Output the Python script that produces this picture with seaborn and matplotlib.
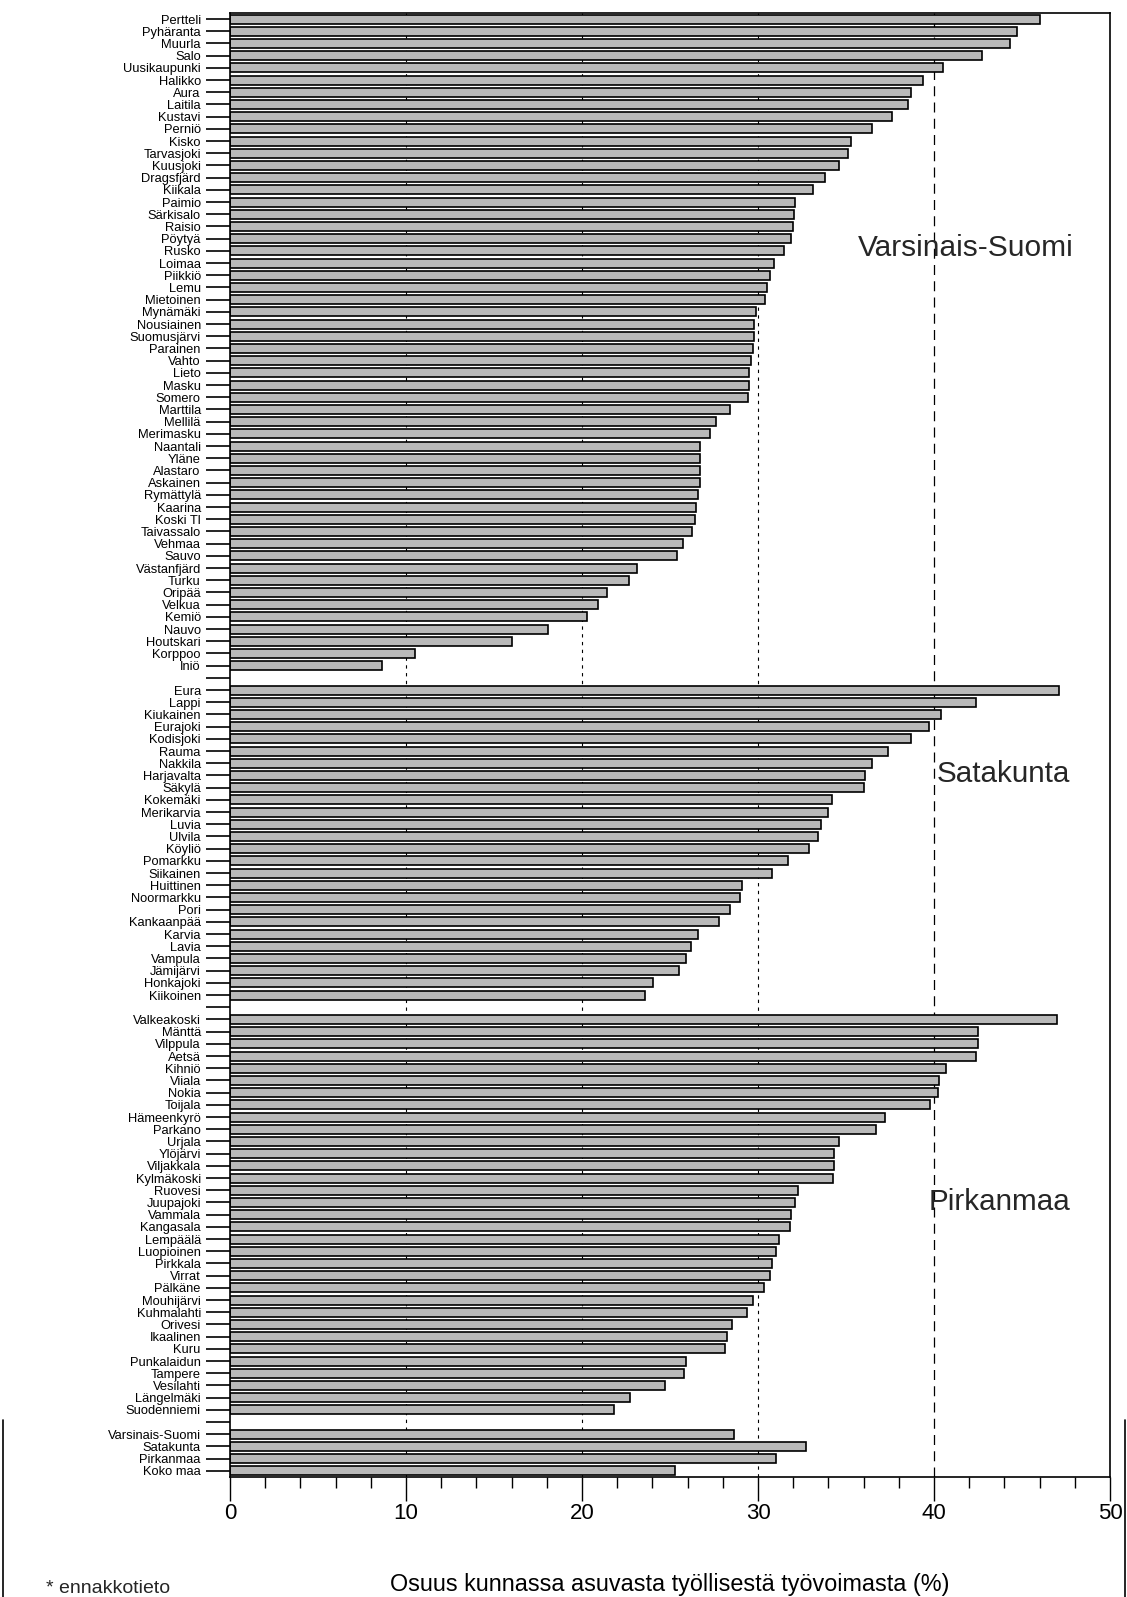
import numpy as np
import pandas as pd
import matplotlib
matplotlib.use("Agg")
import matplotlib.pyplot as plt
from matplotlib.ticker import MultipleLocator
from matplotlib.lines import Line2D
import seaborn as sns

# ---------------- data ----------------
vs_names = ["Pertteli", "Pyhäranta", "Muurla", "Salo", "Uusikaupunki", "Halikko", "Aura",
            "Laitila", "Kustavi", "Perniö", "Kisko", "Tarvasjoki", "Kuusjoki", "Dragsfjärd",
            "Kiikala", "Paimio", "Särkisalo", "Raisio", "Pöytyä", "Rusko", "Loimaa", "Piikkiö",
            "Lemu", "Mietoinen", "Mynämäki", "Nousiainen", "Suomusjärvi", "Parainen", "Vahto",
            "Lieto", "Masku", "Somero", "Marttila", "Mellilä", "Merimasku", "Naantali", "Yläne",
            "Alastaro", "Askainen", "Rymättylä", "Kaarina", "Koski Tl", "Taivassalo", "Vehmaa",
            "Sauvo", "Västanfjärd", "Turku", "Oripää", "Velkua", "Kemiö", "Nauvo", "Houtskari",
            "Korppoo", "Iniö"]
vs_values = [46.0, 44.7, 44.3, 42.7, 40.5, 39.4, 38.7, 38.5, 37.6, 36.5, 35.3, 35.1, 34.6, 33.8,
             33.1, 32.1, 32.05, 32.0, 31.9, 31.5, 30.9, 30.7, 30.5, 30.4, 29.9, 29.8, 29.8, 29.7,
             29.6, 29.5, 29.5, 29.45, 28.4, 27.6, 27.3, 26.7, 26.7, 26.7, 26.7, 26.6, 26.5, 26.4,
             26.25, 25.75, 25.4, 23.1, 22.65, 21.4, 20.9, 20.3, 18.05, 16.0, 10.5, 8.65]

sa_names = ["Eura", "Lappi", "Kiukainen", "Eurajoki", "Kodisjoki", "Rauma", "Nakkila",
            "Harjavalta", "Säkylä", "Kokemäki", "Merikarvia", "Luvia", "Ulvila", "Köyliö",
            "Pomarkku", "Siikainen", "Huittinen", "Noormarkku", "Pori", "Kankaanpää", "Karvia",
            "Lavia", "Vampula", "Jämijärvi", "Honkajoki", "Kiikoinen"]
sa_values = [47.1, 42.4, 40.4, 39.7, 38.7, 37.4, 36.5, 36.1, 36.0, 34.2, 34.0, 33.6, 33.4, 32.9,
             31.7, 30.8, 29.1, 29.0, 28.4, 27.8, 26.6, 26.2, 25.9, 25.5, 24.05, 23.6]

pi_names = ["Valkeakoski", "Mänttä", "Vilppula", "Aetsä", "Kihniö", "Viiala", "Nokia", "Toijala",
            "Hämeenkyrö", "Parkano", "Urjala", "Ylöjärvi", "Viljakkala", "Kylmäkoski", "Ruovesi",
            "Juupajoki", "Vammala", "Kangasala", "Lempäälä", "Luopioinen", "Pirkkala", "Virrat",
            "Pälkäne", "Mouhijärvi", "Kuhmalahti", "Orivesi", "Ikaalinen", "Kuru", "Punkalaidun",
            "Tampere", "Vesilahti", "Längelmäki", "Suodenniemi"]
pi_values = [47.0, 42.5, 42.5, 42.4, 40.7, 40.3, 40.2, 39.75, 37.2, 36.7, 34.6, 34.3, 34.3, 34.25,
             32.3, 32.1, 31.9, 31.8, 31.2, 31.0, 30.8, 30.7, 30.35, 29.7, 29.35, 28.5, 28.25, 28.1,
             25.9, 25.8, 24.7, 22.7, 21.8]

tot_names = ["Varsinais-Suomi", "Satakunta", "Pirkanmaa", "Koko maa"]
tot_values = [28.65, 32.7, 31.0, 25.3]

region_titles = ["Varsinais-Suomi", "Satakunta", "Pirkanmaa"]
x_label = "Osuus kunnassa asuvasta työllisestä työvoimasta (%)"
footnote = "* ennakkotieto"

# ---------------- figure ----------------
sns.set_theme(style="white")
plt.rcParams["font.family"] = ["Liberation Sans", "DejaVu Sans"]

order = vs_names + [" "] + sa_names + ["  "] + pi_names + ["   "] + tot_names
df = pd.DataFrame({
    "kunta": vs_names + sa_names + pi_names + tot_names,
    "osuus": vs_values + sa_values + pi_values + tot_values,
})

W, H = 1127, 1597
fig = plt.figure(figsize=(W / 100, H / 100), dpi=100)
ax_l, ax_r, ax_t, ax_b = 230, 1110, 13, 1477
ax = fig.add_axes([ax_l / W, 1 - ax_b / H, (ax_r - ax_l) / W, (ax_b - ax_t) / H])

sns.barplot(data=df, x="osuus", y="kunta", order=order, color="#b9b9b9", saturation=1,
            edgecolor="black", linewidth=1.2, width=0.74, errorbar=None, ax=ax, zorder=2)

ax.set_xlim(0, 50)
ax.set_ylim(len(order) - 0.5, -0.5)

# dashed reference lines behind bars
for xv in (10, 20, 30):
    ax.axvline(xv, color="black", lw=0.8, ls=(0, (3, 4)), zorder=0.5)
ax.axvline(40, color="black", lw=0.9, ls=(0, (8, 5)), zorder=0.5)

for sp in ax.spines.values():
    sp.set_visible(True)
    sp.set_color("black")
    sp.set_linewidth(1.2)

ax.xaxis.set_major_locator(MultipleLocator(10))
ax.xaxis.set_minor_locator(MultipleLocator(2))
ax.tick_params(axis="x", which="major", direction="out", length=17, width=1.0,
               colors="black", labelsize=16, pad=2, bottom=True)
ax.tick_params(axis="x", which="minor", direction="out", length=8, width=1.0,
               colors="black", bottom=True)
ax.tick_params(axis="y", which="major", direction="out", length=17, width=1.2,
               colors="black", pad=4, left=True)
ax.set_yticks(range(len(order)))
ax.set_yticklabels(order)
for lab in ax.get_yticklabels():
    lab.set_fontfamily(["Liberation Sans Narrow", "Liberation Sans", "DejaVu Sans"])
    lab.set_fontsize(9.3)

ax.set_ylabel("")
ax.set_xlabel(x_label, fontsize=16.8, color="black")
ax.xaxis.set_label_coords(0.5, -(1573 - ax_b) / (ax_b - ax_t))
ax.xaxis.label.set_va("top")

ax.text(35.7, 18.8, region_titles[0], fontsize=21.5, va="center", ha="left")
ax.text(40.15, 61.9, region_titles[1], fontsize=21.3, va="center", ha="left")
ax.text(39.7, 97.0, region_titles[2], fontsize=21.3, va="center", ha="left")

# page frame edges visible in the lower part of the scan
frame_top = 1 - 1420 / H
fig.add_artist(Line2D([3 / W, 3 / W], [0, frame_top], color="black", lw=1.2))
fig.add_artist(Line2D([1125 / W, 1125 / W], [0, frame_top], color="black", lw=1.2))

fig.text(46 / W, 1 - 1597 / H, footnote, fontsize=14, va="bottom", ha="left")

fig.savefig("out.png", dpi=100)
